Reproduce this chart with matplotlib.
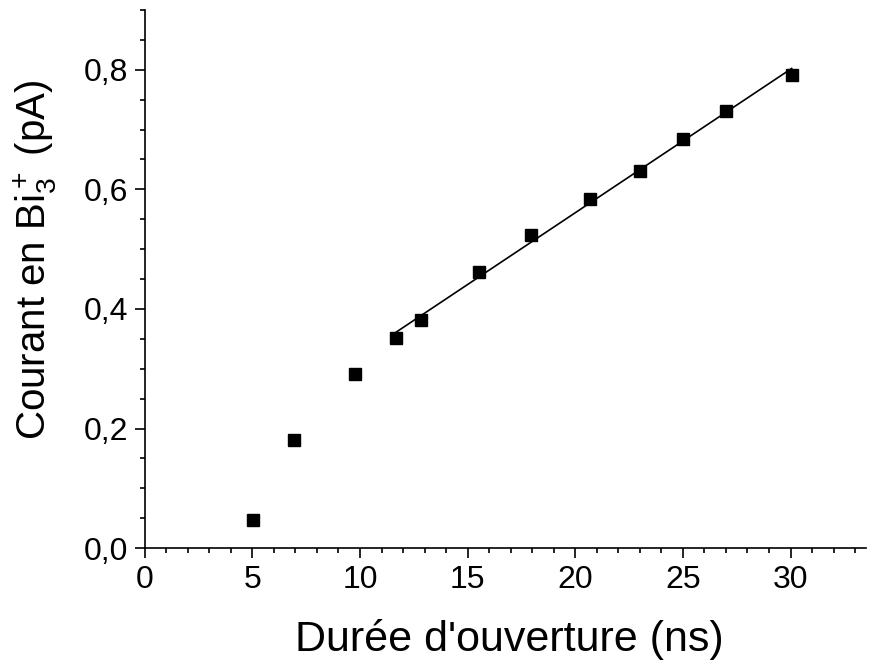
import numpy as np
import matplotlib
matplotlib.use("Agg")
import matplotlib.pyplot as plt
from matplotlib.ticker import MultipleLocator, FuncFormatter

plt.rcParams["font.family"] = ["Liberation Sans", "DejaVu Sans"]
plt.rcParams["mathtext.fontset"] = "custom"
plt.rcParams["mathtext.rm"] = "Liberation Sans"
plt.rcParams["mathtext.it"] = "Liberation Sans:italic"

# Data
duree_ns = [5.05, 6.95, 9.75, 11.65, 12.85, 15.55, 17.95, 20.7, 23.0, 25.0, 27.0, 30.05]
courant_pA = [0.047, 0.181, 0.291, 0.351, 0.381, 0.461, 0.524, 0.584, 0.631, 0.684, 0.731, 0.791]
fit_start = 3  # linear fit over the points from this index on

x = np.array(duree_ns)
y = np.array(courant_pA)
slope, intercept = np.polyfit(x[fit_start:], y[fit_start:], 1)
xf = np.array([x[fit_start], x[-1]])

fig = plt.figure(figsize=(8.72, 6.62), dpi=100)
ax = fig.add_axes([0.166, 0.172, 0.827, 0.813])

ax.plot(xf, slope * xf + intercept, color="black", lw=1.2)
ax.plot(x, y, ls="none", marker="s", ms=8.5, color="black")

ax.set_xlim(0, 33.5)
ax.set_ylim(0, 0.9)
ax.xaxis.set_major_locator(MultipleLocator(5))
ax.xaxis.set_minor_locator(MultipleLocator(1))
ax.yaxis.set_major_locator(MultipleLocator(0.2))
ax.yaxis.set_minor_locator(MultipleLocator(0.05))
ax.yaxis.set_major_formatter(FuncFormatter(lambda v, p: f"{v:.1f}".replace(".", ",")))

for s in ["top", "right"]:
    ax.spines[s].set_visible(False)
for s in ["left", "bottom"]:
    ax.spines[s].set_linewidth(1.2)
ax.tick_params(which="major", direction="out", length=7, width=1.2, labelsize=23, pad=5)
ax.tick_params(which="minor", direction="out", length=3.5, width=1.2)

ax.set_xlabel("Durée d'ouverture (ns)", fontsize=31, va="center")
ax.set_ylabel(r"Courant en $\mathregular{Bi_3^+}$ (pA)", fontsize=29, va="center")
ax.xaxis.set_label_coords(0.505, -0.169)
ax.yaxis.set_label_coords(-0.151, 0.535)

plt.savefig("out.png", dpi=100)
